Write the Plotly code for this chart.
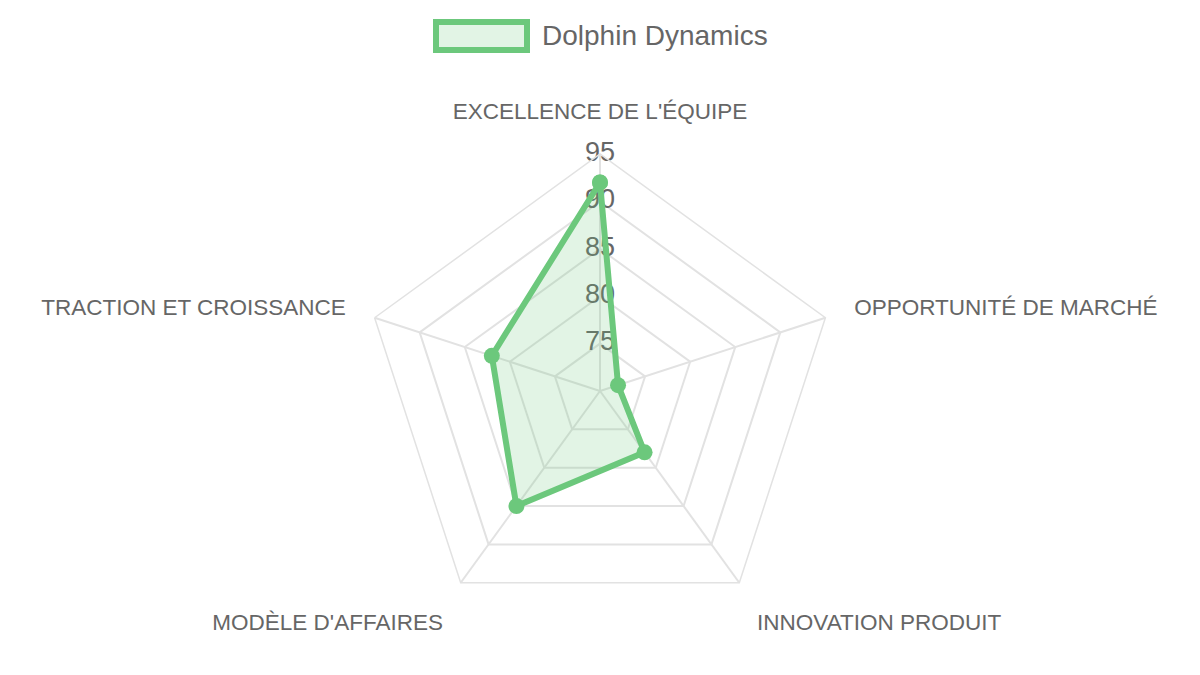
import plotly.graph_objects as go

# radar data
categories = ["EXCELLENCE DE L'ÉQUIPE", "OPPORTUNITÉ DE MARCHÉ", "INNOVATION PRODUIT",
              "MODÈLE D'AFFAIRES", "TRACTION ET CROISSANCE"]
scores = [92, 72, 78, 85, 82]
series_name = "Dolphin Dynamics"
tick_values = [75, 80, 85, 90, 95]
r_min, r_max = 70, 95

W, H = 1200, 675
line_col = "rgb(108,200,124)"
fill_col = "rgba(108,200,124,0.2)"
grid_col = "#e2e2e2"
text_col = "#666666"
font_fam = "Liberation Sans, Arial, sans-serif"

# page body adds an 8px offset, so pixel positions are shifted back
off = 8
cx, cy, rad = 600 - off, 391 - off, 237


def px(x):
    return (x - off) / W


def py(y):
    return 1 - (y - off) / H


fig = go.Figure()

# tick labels drawn on the vertical axis
fig.add_trace(go.Scatterpolar(
    r=tick_values,
    theta=[categories[0]] * len(tick_values),
    mode="text",
    text=[str(v) for v in tick_values],
    textposition="middle center",
    textfont=dict(size=27, color=text_col, family=font_fam),
    showlegend=False,
    hoverinfo="skip",
))

fig.add_trace(go.Scatterpolar(
    r=scores + [scores[0]],
    theta=categories + [categories[0]],
    mode="lines+markers",
    fill="toself",
    fillcolor=fill_col,
    line=dict(color=line_col, width=6),
    marker=dict(color=line_col, size=16),
    name=series_name,
    showlegend=False,
))

fig.update_layout(
    width=W,
    height=H,
    margin=dict(l=0, r=0, t=0, b=0),
    paper_bgcolor="white",
    plot_bgcolor="white",
    font=dict(family=font_fam, color=text_col),
    polar=dict(
        domain=dict(x=[cx / W - rad / W, cx / W + rad / W],
                    y=[1 - (cy + rad) / H, 1 - (cy - rad) / H]),
        bgcolor="white",
        gridshape="linear",
        radialaxis=dict(
            range=[r_min, r_max],
            tickvals=tick_values,
            showticklabels=False,
            ticks="",
            showline=False,
            gridcolor=grid_col,
            gridwidth=1.5,
            angle=90,
        ),
        angularaxis=dict(
            rotation=90,
            direction="clockwise",
            gridcolor=grid_col,
            gridwidth=1.5,
            linecolor=grid_col,
            linewidth=1.5,
            showline=True,
            ticks="outside",
            ticklen=25,
            tickcolor="rgba(0,0,0,0)",
            tickfont=dict(size=22.5, color=text_col, family=font_fam),
        ),
    ),
    shapes=[dict(
        type="rect", xref="paper", yref="paper",
        x0=px(436), x1=px(527), y0=py(50), y1=py(22),
        line=dict(color=line_col, width=6),
        fillcolor=fill_col,
    )],
    annotations=[dict(
        text=series_name, xref="paper", yref="paper",
        x=px(540), y=py(36), xanchor="left", yanchor="middle",
        showarrow=False,
        font=dict(size=28, color=text_col, family=font_fam),
    )],
)

fig.write_html("out.html")
